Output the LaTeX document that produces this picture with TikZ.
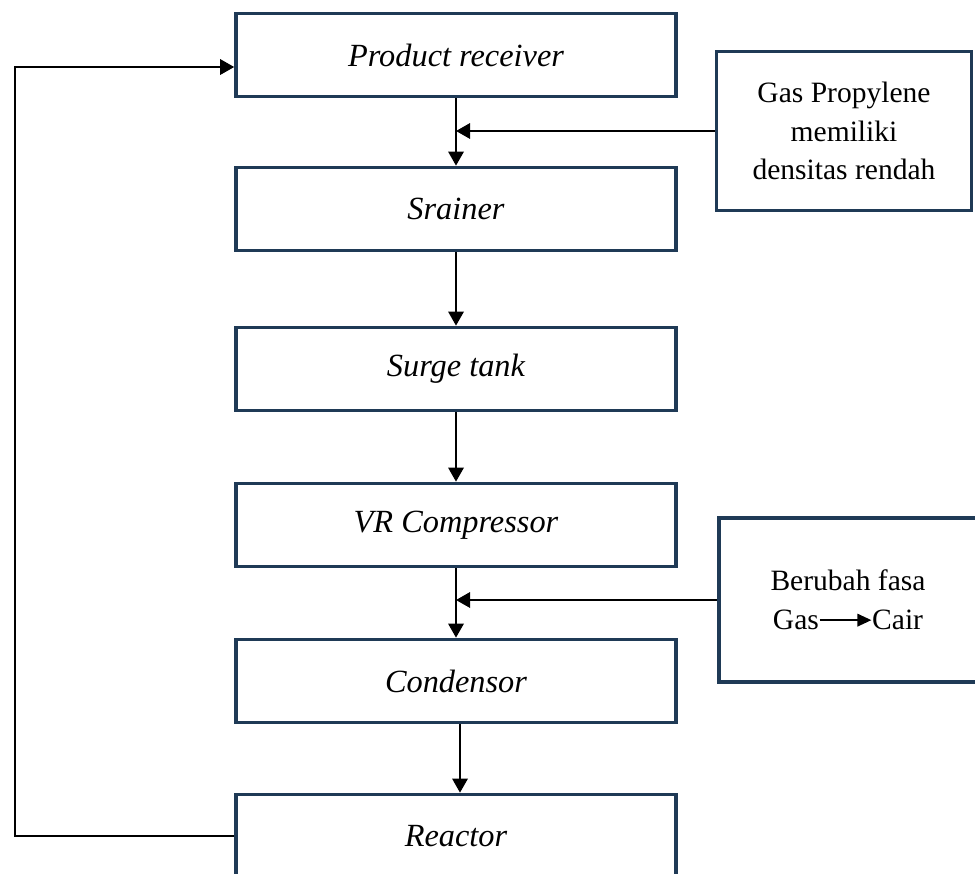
\documentclass[tikz,border=0pt]{standalone}
\usepackage{fontspec}
\setmainfont{Liberation Serif}
\usetikzlibrary{arrows.meta,positioning}
\definecolor{navy}{HTML}{1F3A56}
\newcommand{\phasearrow}{\tikz[baseline=0pt]\draw[line width=1.2pt,-{Triangle[length=10pt,width=9pt]}](0,0.32em)--(1.75em,0.32em);}

\begin{document}
\begin{tikzpicture}[x=0.025cm,y=-0.025cm,
  box/.style={draw=navy,line width=2.5pt,minimum width=11cm,minimum height=2.08cm,inner sep=0pt,font=\fontsize{23}{28}\selectfont\itshape},
  note/.style={draw=navy,line width=2.5pt,inner sep=0pt,align=center,font=\fontsize{21}{27.5}\selectfont},
  flow/.style={-{Triangle[length=10pt,width=11pt]},line width=1.4pt}]
\useasboundingbox (0,0) rectangle (975,874);
% main process chain
\node[box] (receiver) at (456,55) {Product receiver};
\node[box] (strainer) at (456,209) {Srainer};
\node[box] (surge) at (456,369) {Surge tank};
\node[box] (compressor) at (456,525) {VR Compressor};
\node[box] (condensor) at (456,681) {Condensor};
\node[box] (reactor) at (456,836) {Reactor};
% side notes
\node[note,minimum width=6.38cm,minimum height=3.98cm] (density) at (844,131) {Gas Propylene\\memiliki\\densitas rendah};
\node[note,minimum width=6.45cm,minimum height=4.1cm] (phase) at (848,600) {Berubah fasa\\Gas\phasearrow Cair};
\coordinate (loop) at (15,0);
% flows
\draw[flow](receiver.south)--(strainer.north);
\draw[flow](strainer.south)--(surge.north);
\draw[flow](surge.south)--(compressor.north);
\draw[flow](compressor.south)--(condensor.north);
\draw[flow]([xshift=0.1cm]condensor.south)--([xshift=0.1cm]reactor.north);
\draw[flow](density.west)--(density.west-|receiver.south);
\draw[flow](phase.west)--(phase.west-|compressor.south);
\draw[flow](reactor.west)--(reactor.west-|loop)|-([yshift=-0.3cm]receiver.west);
\end{tikzpicture}
\end{document}
